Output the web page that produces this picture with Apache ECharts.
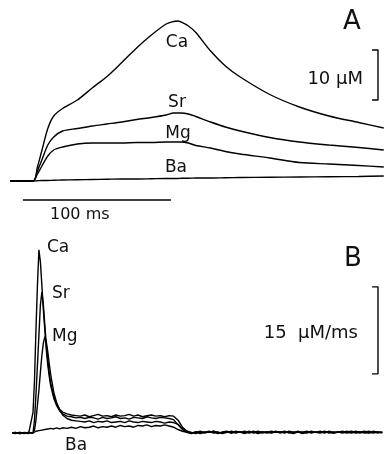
<!DOCTYPE html>
<html><head><meta charset="utf-8">
<script src="https://cdn.jsdelivr.net/npm/echarts@6/dist/echarts.min.js"></script>
<style>html,body{margin:0;padding:0;background:#fff}#c{width:384px;height:454px}</style>
</head><body><div id="c"></div>
<script>
// Panel A: [Ca] (µM) vs time (ms)
const tA = [-15.5,0,3,6,10,14,20,30,40,50,60,70,80,90,95,98,100,105,110,120,130,140,160,180,200,220,237];
const caA = [0,0,2.8,6.1,10.5,13.0,14.5,16.2,18.6,20.9,23.7,26.6,29.2,31.4,31.9,32.0,31.8,31.0,29.7,26.0,23.0,20.8,17.3,14.8,13.0,11.7,10.6];
const srA = [0,0,2.0,4.2,7.2,8.8,10.0,10.5,11.0,11.4,11.8,12.3,12.7,13.2,13.6,13.6,13.6,13.4,12.9,11.8,10.8,10.0,8.7,7.8,7.2,6.7,6.2];
const mgA = [0,0,1.4,3.0,5.0,6.2,6.8,7.4,7.6,7.6,7.6,7.7,7.7,7.8,7.8,7.8,7.8,7.6,7.1,6.6,5.9,5.4,4.6,3.7,3.4,3.1,2.8];
const baA = [0,0,0.05,0.1,0.1,0.15,0.2,0.25,0.3,0.35,0.4,0.4,0.45,0.5,0.5,0.5,0.55,0.55,0.6,0.6,0.65,0.7,0.75,0.8,0.85,0.9,1.0];

// Panel B: release rate (µM/ms) vs time (ms)
const tB = [-14,-12,-9,-6,-3,0,1,2,3,4,5,6,7,8,9,10,11,12,14,16,18,
  20,23,26,29,32,35,38,41,44,47,50,53,56,59,62,65,68,71,74,77,80,83,86,89,92,95,98,101,104,107,
  110,113,116,119,122,125,128,131,134,137,140,143,146,149,152,155,158,161,164,167,170,173,176,179,182,185,188,191,194,197,200,203,206,209,212,215,218,221,224,227,230,233,236];
const caB = [0.1,-0.1,0.1,0,-0.1, 3.5,9,17.8,25.5,31.6, 29.5,25.5,21.2,17.8,14.3, 11.7,9.7,8.1,6.0,4.7, 3.8,
  3.3,2.9,2.8,2.6,2.7,2.5,2.7,2.6,2.4,2.7, 2.5,2.6,2.8,2.5,2.6,2.4,2.7,2.6,2.5,2.8, 2.6,2.5,2.7,2.6,2.5,2.3,1.4,0.6,0.1,-0.1,
  0.2,-0.1,0.1,0.3,0,0.2,-0.1,0.1,0.3,0.1, 0.2,-0.1,0.2,0.1,0.3,0,0.2,0.1,0.3,0, 0.2,0.1,-0.1,0.2,0.1,0.3,0,0.2,0.1,0.3, 0,0.2,0.1,0.3,0.1,0.2,0,0.2,0.3,0.1, 0.2,0,0.2];
const srB = [0,0.1,-0.1,0.1,0, 0,2.2,6.6,11.7,16.9, 22.1,24.3,22.1,18.6,15.2, 12.6,10.3,8.6,6.4,5.0, 4.1,
  3.6,3.3,3.1,3.0,2.9,3.1,2.8,3.0,3.2,2.9, 3.0,2.8,3.1,2.9,3.0,3.2,2.9,3.1,2.8,3.0, 3.1,2.9,3.0,2.8,3.0,2.9,2.2,1.0,0.3,0,
  0.1,0.3,0,0.2,0.1,-0.1,0.2,0.3,0,0.2, 0.1,0.3,0,0.2,-0.1,0.2,0.1,0.3,0.1,0.2, 0,0.3,0.1,0.2,-0.1,0.1,0.3,0.1,0.2,0, 0.3,0.1,0.2,0,0.2,0.3,0.1,0,0.2,0.3, 0.1,0.2,0];
const mgB = [0,0,0.1,-0.1,0.1, 0,0.5,2.2,4.8,7.4, 10.5,13.4,15.5,16.6,15.7, 14.0,11.9,10.0,7.1,5.2, 4.0,
  3.1,2.5,2.2,2.1,2.0,1.9,2.1,1.8,2.0,1.9, 2.1,1.8,1.9,2.0,1.8,2.1,1.9,1.8,2.0,1.9, 1.8,2.0,1.9,1.7,1.9,1.8,1.5,0.8,0.3,0.1,
  -0.1,0.2,0.1,0.1,0.3,0,0.1,0.2,0,0.3, 0.1,0,0.3,0,0.2,0.2,0,0.1,0.2,0.1, 0.3,0,0.2,0.1,0.2,0,0.2,0.1,0,0.2, 0.1,0,0.2,0.2,0,0.1,0.3,0.1,0.1,0, 0.3,0.1,0.1];
const baB = [0,0.1,-0.1,0,0.1, 0,0.1,0.3,0.2,0.4, 0.3,0.5,0.4,0.6,0.5, 0.7,0.5,0.8,0.7,0.9, 0.7,
  0.9,0.8,1.0,0.8,1.1,0.9,1.0,1.2,0.9,1.1, 1.0,1.2,1.0,1.3,1.1,1.2,1.0,1.3,1.2,1.4, 1.1,1.3,1.2,1.4,1.2,1.0,0.6,0.3,0.1,0,
  0.2,0,0.2,0.1,0.3,0.1,0,0.2,0.2,0, 0.2,0.1,0.1,0.3,0,0.1,0.2,0,0.2,0.2, 0.1,0.2,0,0.3,0,0.2,0.1,0.1,0.3,0.1, 0.2,0,0.1,0.1,0.3,0,0.2,0.2,0,0.1, 0,0.2,0.1];

// Scale bars (data units)
const timeBarX = [-6.8, 93.2];   // 100 ms
const timeBarY = -3.8;
const concBarY = [26.2, 16.2];   // 10 µM
const rateBarY = [25.2, 10.2];   // 15 µM/ms
const barX = [229.1, 233.1];

const zip = (t, v) => t.map((x, i) => [x, v[i]]);
const ink = '#000';
const FONT = '"DejaVu Sans", sans-serif';

function trace(name, xi, t, v, smooth) {
  return { name, type: 'line', xAxisIndex: xi, yAxisIndex: xi, data: zip(t, v),
    showSymbol: false, smooth: smooth, lineStyle: { color: ink, width: 1.4 }, silent: true, animation: false };
}
function bracket(xi, ys) {
  return { type: 'line', xAxisIndex: xi, yAxisIndex: xi, showSymbol: false, silent: true, animation: false,
    data: [[barX[0], ys[0]], [barX[1], ys[0]], [barX[1], ys[1]], [barX[0], ys[1]]],
    lineStyle: { color: ink, width: 1.4 } };
}
function txt(text, x, y, size, align) {
  return { type: 'text', x, y, silent: true,
    style: { text, fill: '#111', fontSize: size, fontFamily: FONT, align: align || 'center', verticalAlign: 'middle' } };
}

const chart = echarts.init(document.getElementById('c'), null, { renderer: 'canvas' });
const xBase = { type: 'value', min: -22.297, max: 237.16, show: false };
chart.setOption({
  animation: false,
  backgroundColor: '#fff',
  grid: [
    { left: 0, right: 0, top: 0, height: 230 },
    { left: 0, right: 0, top: 230, height: 224 }
  ],
  xAxis: [Object.assign({ gridIndex: 0 }, xBase), Object.assign({ gridIndex: 1 }, xBase)],
  yAxis: [
    { gridIndex: 0, type: 'value', min: -9.8, max: 36.2, show: false },
    { gridIndex: 1, type: 'value', min: -3.6207, max: 35.0, show: false }
  ],
  series: [
    trace('Ca', 0, tA, caA, 0.3),
    trace('Sr', 0, tA, srA, 0.3),
    trace('Mg', 0, tA, mgA, 0.3),
    trace('Ba', 0, tA, baA, 0.3),
    trace('Ca', 1, tB, caB, false),
    trace('Sr', 1, tB, srB, false),
    trace('Mg', 1, tB, mgB, false),
    trace('Ba', 1, tB, baB, false),
    { type: 'line', xAxisIndex: 0, yAxisIndex: 0, showSymbol: false, silent: true, animation: false,
      data: [[timeBarX[0], timeBarY], [timeBarX[1], timeBarY]], lineStyle: { color: ink, width: 1.4 } },
    bracket(0, concBarY),
    bracket(1, rateBarY)
  ],
  graphic: [
    txt('A', 352, 22, 26),
    txt('10 \u03bcM', 363, 79, 18, 'right'),
    txt('Ca', 177, 43, 17),
    txt('Sr', 177, 103, 17),
    txt('Mg', 178, 134, 17),
    txt('Ba', 176, 168, 17),
    txt('100 ms', 50, 215, 16, 'left'),
    txt('B', 353, 259, 26),
    txt('15  \u03bcM/ms', 358, 333, 18, 'right'),
    txt('Ca', 47, 248, 17, 'left'),
    txt('Sr', 52, 294, 17, 'left'),
    txt('Mg', 52, 337, 17, 'left'),
    txt('Ba', 65, 446, 17, 'left')
  ]
});
</script></body></html>
